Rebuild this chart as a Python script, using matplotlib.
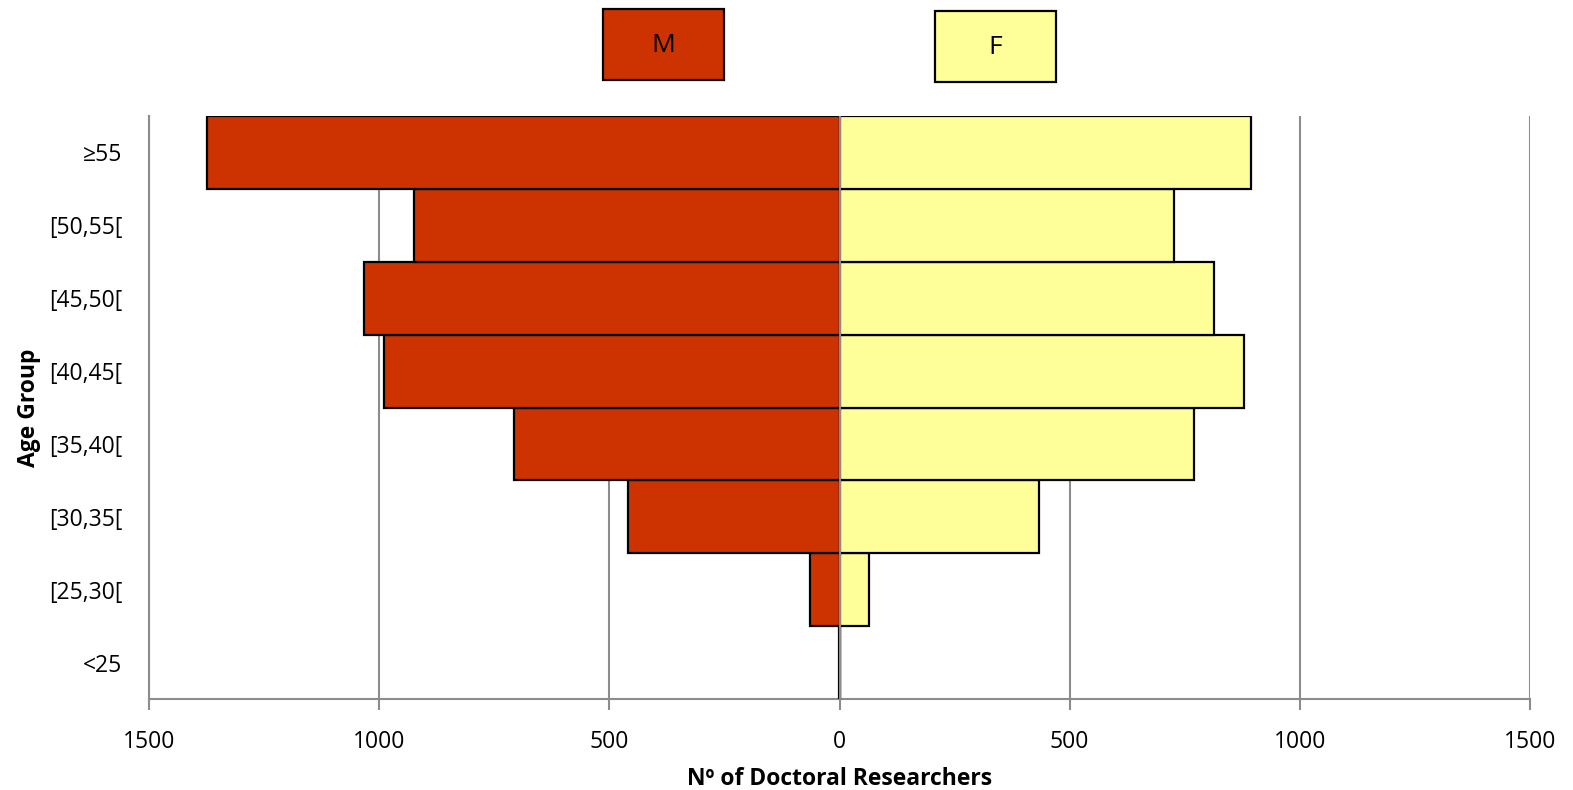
import matplotlib.pyplot as plt
from matplotlib.patches import Rectangle

# age groups, bottom to top
age_groups = ['<25', '[25,30[', '[30,35[', '[35,40[', '[40,45[', '[45,50[', '[50,55[', '≥55']
male = [2, 63, 460, 708, 990, 1033, 925, 1375]
female = [1, 65, 433, 770, 878, 813, 726, 893]
xticks = [-1500, -1000, -500, 0, 500, 1000, 1500]

plt.rcParams['font.family'] = ['Open Sans', 'DejaVu Sans']

male_color = '#CC3300'
female_color = '#FFFF99'
grey = '#8C8C8C'

fig = plt.figure(figsize=(15.73, 7.90), dpi=100)
ax = fig.add_axes([149 / 1573, 1 - 699 / 790, (1530 - 149) / 1573, (699 - 116) / 790])

y = range(len(age_groups))
ax.barh(y, [-v for v in male], height=1.0, color=male_color, edgecolor='black', linewidth=1.6, zorder=3)
ax.barh(y, female, height=1.0, color=female_color, edgecolor='black', linewidth=1.6, zorder=3)
ax.axvline(0, color=grey, linewidth=1.5, zorder=4)

ax.set_xlim(-1500, 1500)
ax.set_ylim(-0.5, len(age_groups) - 0.5)
ax.set_xticks(xticks)
ax.set_xticklabels([str(abs(t)) for t in xticks])
ax.set_yticks(list(y))
ax.set_yticklabels(age_groups)
ax.grid(axis='x', color=grey, linewidth=1.5, zorder=0)

for side in ['top', 'right']:
    ax.spines[side].set_visible(False)
for side in ['left', 'bottom']:
    ax.spines[side].set_color(grey)
    ax.spines[side].set_linewidth(1.5)
ax.tick_params(axis='x', direction='out', length=8, width=1.5, color=grey, labelsize=16.5, pad=14)
ax.tick_params(axis='y', length=0, labelsize=16.5, pad=19)

ax.set_xlabel('Nº of Doctoral Researchers', fontsize=16.5, fontweight='bold', labelpad=10)
ax.set_ylabel('Age Group', fontsize=16.5, fontweight='bold', labelpad=6)

# legend boxes above the plot
for x0, y0, label, color in [(603, 9, 'M', male_color), (935, 11, 'F', female_color)]:
    w, h = 121, 71
    fig.patches.append(Rectangle((x0 / 1573, 1 - (y0 + h) / 790), w / 1573, h / 790,
                                 transform=fig.transFigure, facecolor=color,
                                 edgecolor='black', linewidth=1.6))
    fig.text((x0 + w / 2) / 1573, 1 - (y0 + h / 2 + 1) / 790, label,
             ha='center', va='center', fontsize=19)

fig.savefig('out.png', dpi=100)
